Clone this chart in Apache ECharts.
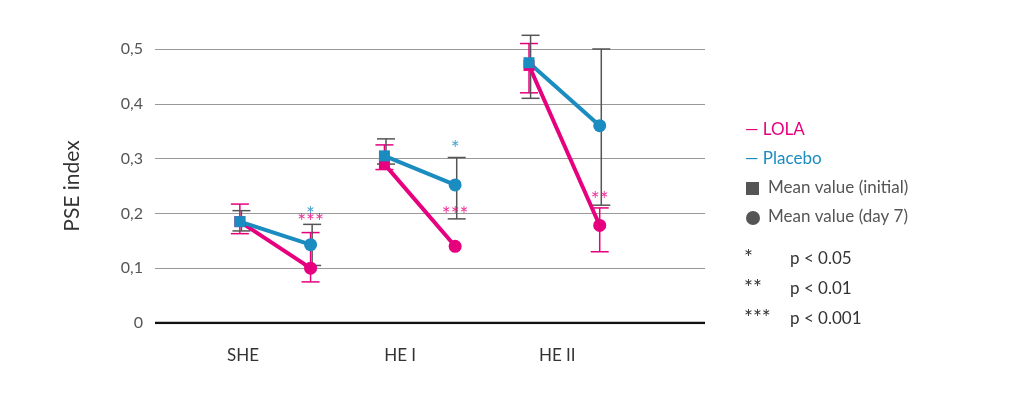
<!DOCTYPE html>
<html><head><meta charset="utf-8">
<script src="https://cdn.jsdelivr.net/npm/echarts@6/dist/echarts.min.js"></script>
<style>html,body{margin:0;background:#fff}#c{width:1024px;height:401px}</style>
</head><body><div id="c"></div>
<script>
const categories = ["SHE", "HE I", "HE II"];
const offInitial = [-0.02, -0.10, -0.18], offDay7 = [0.43, 0.35, 0.27];
// [initial, day7]
const lolaMean = [[0.185, 0.100], [0.290, 0.140], [0.470, 0.178]];
const placeboMean = [[0.185, 0.143], [0.305, 0.252], [0.475, 0.360]];
// error bars [low, high] or null
const lolaErr = [[[0.163, 0.217], [0.075, 0.165]], [[0.280, 0.325], null], [[0.420, 0.510], [0.130, 0.210]]];
const placeboErr = [[[0.168, 0.205], [0.105, 0.180]], [[0.290, 0.336], [0.190, 0.302]], [[0.410, 0.525], [0.215, 0.500]]];
const starsPlacebo = [["*", 0.196], ["*", 0.318], ["", 0]];
const starsLola = [["***", 0.184], ["***", 0.196], ["**", 0.224]];

const PINK = "#e6007e", BLUE = "#1a8cc0", GRAY = "#555";
const x = (i, d) => i + (d ? offDay7[i] : offInitial[i]);

function lineSeries(mean, color) {
  return categories.map((c, i) => ({
    type: "line", data: [[x(i, 0), mean[i][0]], [x(i, 1), mean[i][1]]],
    lineStyle: { color, width: 4 }, itemStyle: { color }, symbolSize: 0, z: 3
  }));
}
function pointSeries(mean, color) {
  return [
    { type: "scatter", symbol: "rect", symbolSize: 11, itemStyle: { color, opacity: 1 }, z: 4,
      data: mean.map((m, i) => [x(i, 0), m[0]]) },
    { type: "scatter", symbol: "circle", symbolSize: 13, itemStyle: { color, opacity: 1 }, z: 4,
      data: mean.map((m, i) => [x(i, 1), m[1]]) }
  ];
}
function errSeries(err, color, dx) {
  const data = [];
  err.forEach((e, i) => e.forEach((r, d) => { if (r) data.push([x(i, d) + dx, r[0], r[1]]); }));
  return {
    type: "custom", z: 2, data,
    renderItem: (p, api) => {
      const lo = api.coord([api.value(0), api.value(1)]);
      const hi = api.coord([api.value(0), api.value(2)]);
      const w = 9, st = { stroke: color, lineWidth: 1.5 };
      return { type: "group", children: [
        { type: "line", shape: { x1: lo[0], y1: lo[1], x2: hi[0], y2: hi[1] }, style: st },
        { type: "line", shape: { x1: lo[0] - w, y1: lo[1], x2: lo[0] + w, y2: lo[1] }, style: st },
        { type: "line", shape: { x1: hi[0] - w, y1: hi[1], x2: hi[0] + w, y2: hi[1] }, style: st }
      ] };
    }
  };
}
function starSeries(stars, color) {
  return {
    type: "scatter", symbolSize: 0, z: 5,
    data: stars.map((s, i) => ({ value: [x(i, 1), s[1]], name: s[0] })).filter(d => d.name),
    label: { show: true, position: "inside", formatter: p => p.name, color, fontSize: 21, fontFamily: "Lato" }
  };
}

const chart = echarts.init(document.getElementById("c"));
const txt = (t, y, color, extra) => Object.assign({ type: "text", left: 745, top: y,
  style: { text: t, fill: color, font: "17px Lato" } }, extra || {});
const star = (t, y) => ({ type: "text", left: 744, top: y, style: { text: t, fill: "#333", font: "21px Lato" } });
chart.setOption({
  animation: false,
  grid: { left: 155, right: 319, top: 49, bottom: 78 },
  xAxis: {
    type: "value", min: -0.56, max: 2.94,
    axisLine: { show: false }, axisTick: { show: false }, splitLine: { show: false },
    axisLabel: { customValues: [0, 1, 2], formatter: v => categories[Math.round(v)],
      color: "#333", fontSize: 17, fontFamily: "Lato", margin: 24 }
  },
  yAxis: {
    type: "value", min: 0, max: 0.5, interval: 0.1,
    name: "PSE index", nameLocation: "middle", nameGap: 72, nameRotate: 90,
    nameTextStyle: { fontSize: 21, color: "#333", fontFamily: "Lato" },
    axisLine: { show: false }, axisTick: { show: false },
    axisLabel: { formatter: v => v === 0 ? "0" : v.toFixed(1).replace(".", ","),
      color: "#555", fontSize: 16, fontFamily: "Lato", margin: 12 },
    splitLine: { lineStyle: { color: "#999", width: 1 } }
  },
  series: [
    { type: "line", data: [[-0.56, 0], [2.94, 0]], symbol: "none", lineStyle: { color: "#111", width: 2.5 }, z: 1 },
    errSeries(lolaErr, PINK, 0), errSeries(placeboErr, GRAY, 0.01),
    ...lineSeries(lolaMean, PINK), ...lineSeries(placeboMean, BLUE),
    ...pointSeries(lolaMean, PINK), ...pointSeries(placeboMean, BLUE),
    starSeries(starsLola, PINK), starSeries(starsPlacebo, BLUE)
  ],
  graphic: [
    txt("— LOLA", 121, PINK), txt("— Placebo", 150, BLUE),
    { type: "rect", left: 746, top: 182, shape: { width: 13, height: 13 }, style: { fill: GRAY } },
    txt("Mean value (initial)", 179, GRAY, { left: 768 }),
    { type: "circle", left: 746, top: 211, shape: { r: 7 }, style: { fill: GRAY } },
    txt("Mean value (day 7)", 208, GRAY, { left: 768 }),
    star("*", 248), txt("p < 0.05", 250, "#333", { left: 790 }),
    star("**", 278), txt("p < 0.01", 280, "#333", { left: 790 }),
    star("***", 308), txt("p < 0.001", 310, "#333", { left: 790 })
  ]
});
</script></body></html>
